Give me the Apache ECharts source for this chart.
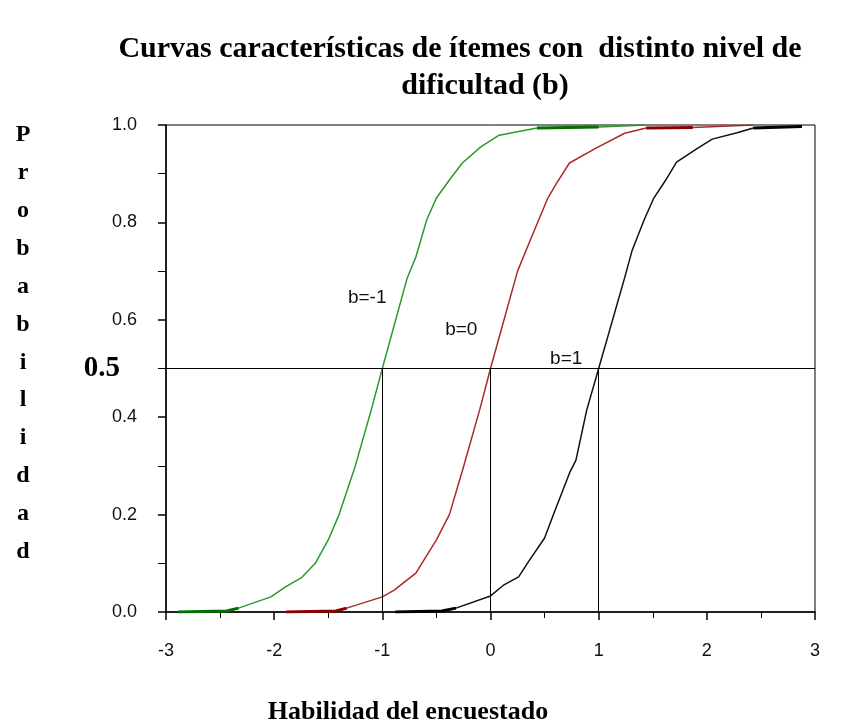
<!DOCTYPE html>
<html>
<head>
<meta charset="utf-8">
<script src="https://cdn.jsdelivr.net/npm/echarts@6/dist/echarts.min.js"></script>
<style>
html,body{margin:0;padding:0;background:#fff;}
#chart{width:850px;height:726px;}
</style>
</head>
<body>
<div id="chart"></div>
<script>
// ---- data ----
const difficulties = [-1, 0, 1];
const curveLabels = ['b=-1', 'b=0', 'b=1'];
const xTicks = [-3, -2, -1, 0, 1, 2, 3];
const yTicks = [0.0, 0.2, 0.4, 0.6, 0.8, 1.0];
const halfProb = 0.5;

const greenX = [-2.89,-2.44,-2.33,-2.03,-1.90,-1.75,-1.62,-1.50,-1.40,-1.25,-1.10,-1.00,-0.77,-0.69,-0.59,-0.50,-0.38,-0.26,-0.09,0.08,0.43,1.00,1.44];
const greenP = [0.000,0.002,0.008,0.031,0.051,0.070,0.100,0.148,0.200,0.300,0.417,0.500,0.686,0.729,0.805,0.850,0.887,0.922,0.955,0.979,0.994,0.996,1.000];

const redX = [-1.89,-1.43,-1.33,-1.00,-0.89,-0.77,-0.69,-0.50,-0.38,-0.26,-0.10,0.00,0.25,0.38,0.53,0.61,0.73,0.98,1.24,1.44,1.87,2.43];
const redP = [0.000,0.002,0.008,0.031,0.045,0.066,0.080,0.148,0.200,0.290,0.415,0.500,0.700,0.770,0.850,0.880,0.922,0.953,0.983,0.994,0.995,1.000];

const blackX = [-0.88,-0.45,-0.32,0.00,0.12,0.26,0.35,0.50,0.59,0.73,0.79,0.89,1.00,1.24,1.31,1.42,1.51,1.62,1.72,1.92,2.05,2.28,2.43,2.88];
const blackP = [0.000,0.002,0.008,0.033,0.055,0.072,0.103,0.152,0.205,0.285,0.312,0.415,0.500,0.686,0.743,0.805,0.850,0.887,0.924,0.953,0.971,0.984,0.994,0.997];

// label anchors (data coordinates) for the curve tags
const labelAnchorX = [-1.14, -0.27, 0.70];
const labelAnchorY = [0.645, 0.580, 0.520];

// ---- build ----
const curves = [
  {x: greenX, p: greenP, color: '#2a9a2a', dark: '#007000', topThick: [20, 21]},
  {x: redX, p: redP, color: '#a82a2a', dark: '#8b0000', topThick: [19, 20]},
  {x: blackX, p: blackP, color: '#111111', dark: '#000000', topThick: [22, 23]}
];
function pairs(c) { return c.x.map((v, i) => [v, c.p[i]]); }

const series = [];
curves.forEach((c, k) => {
  const d = pairs(c);
  series.push({
    type: 'line', data: d, symbol: 'none', z: 3,
    lineStyle: {color: c.color, width: 1.5},
    markPoint: {
      symbol: 'circle', symbolSize: 0, silent: true,
      data: [{coord: [labelAnchorX[k], labelAnchorY[k]], value: curveLabels[k]}],
      label: {show: true, position: 'inside', formatter: curveLabels[k],
        fontFamily: 'Liberation Sans, Arial', fontSize: 19, color: '#111'}
    }
  });
  series.push({type: 'line', data: d.slice(0, 3), symbol: 'none', z: 4,
    lineStyle: {color: c.dark, width: 3}});
  series.push({type: 'line', data: d.slice(c.topThick[0], c.topThick[1] + 1), symbol: 'none', z: 4,
    lineStyle: {color: c.dark, width: 3}});
});

// guide lines
series.push({
  type: 'line', data: [], symbol: 'none',
  markLine: {
    silent: true, symbol: 'none', animation: false,
    lineStyle: {color: '#000', width: 1, type: 'solid'},
    data: [
      {yAxis: halfProb, label: {show: true, position: 'start', distance: 46, formatter: String(halfProb),
        fontFamily: 'Liberation Serif, Times New Roman', fontWeight: 'bold', fontSize: 29, color: '#000'}},
      ...difficulties.map(b => [{coord: [b, 0], label: {show: false}}, {coord: [b, halfProb]}])
    ]
  }
});

const chart = echarts.init(document.getElementById('chart'));
chart.setOption({
  animation: false,
  backgroundColor: '#fff',
  grid: {left: 166, right: 35, top: 125, bottom: 114, show: true, borderColor: '#000', borderWidth: 1},
  xAxis: {
    type: 'value', min: xTicks[0], max: xTicks[xTicks.length - 1], interval: 1,
    axisLine: {show: true, onZero: false, lineStyle: {color: '#000', width: 1.5}},
    axisTick: {show: true, length: 8, lineStyle: {color: '#000', width: 1.5}},
    minorTick: {show: true, splitNumber: 2, length: 6, lineStyle: {color: '#000'}},
    splitLine: {show: false},
    axisLabel: {margin: 30, fontFamily: 'Liberation Sans, Arial', fontSize: 18, color: '#111'}
  },
  yAxis: {
    type: 'value', min: yTicks[0], max: yTicks[yTicks.length - 1], interval: 0.2,
    axisLine: {show: true, onZero: false, lineStyle: {color: '#000', width: 1.5}},
    axisTick: {show: true, length: 8, lineStyle: {color: '#000', width: 1.5}},
    minorTick: {show: true, splitNumber: 2, length: 8, lineStyle: {color: '#000'}},
    splitLine: {show: false},
    axisLabel: {margin: 29, fontFamily: 'Liberation Sans, Arial', fontSize: 18, color: '#111',
      formatter: v => v.toFixed(1)}
  },
  graphic: [
    {type: 'text', silent: true,
      style: {x: 460, y: 49, text: 'Curvas características de ítemes con  distinto nivel de', textAlign: 'center', textVerticalAlign: 'middle',
        font: 'bold 30px "Liberation Serif", "Times New Roman", serif', fill: '#000'}},
    {type: 'text', silent: true,
      style: {x: 485, y: 86, text: 'dificultad (b)', textAlign: 'center', textVerticalAlign: 'middle',
        font: 'bold 30px "Liberation Serif", "Times New Roman", serif', fill: '#000'}},
    {type: 'text', silent: true,
      style: {x: 408, y: 712, text: 'Habilidad del encuestado', textAlign: 'center', textVerticalAlign: 'middle',
        font: 'bold 26px "Liberation Serif", "Times New Roman", serif', fill: '#000'}},
    {type: 'text', silent: true,
      style: {x: 23, y: 116, text: 'Probabilidad'.split('').join('\n'), textAlign: 'center', textVerticalAlign: 'top',
        lineHeight: 37.9, font: 'bold 24px "Liberation Serif", "Times New Roman", serif', fill: '#000'}}
  ],
  series: series
});
</script>
</body>
</html>
